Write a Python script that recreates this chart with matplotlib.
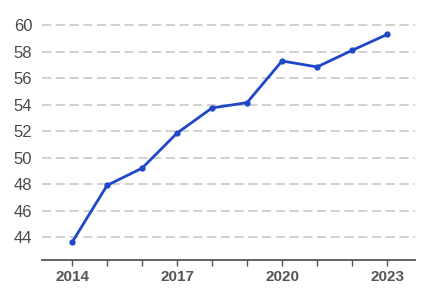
import matplotlib
matplotlib.use("Agg")
import matplotlib.pyplot as plt

years = [2014, 2015, 2016, 2017, 2018, 2019, 2020, 2021, 2022, 2023]
values = [43.6, 47.9, 49.2, 51.85, 53.75, 54.15, 57.3, 56.85, 58.1, 59.3]
y_ticks = [44, 46, 48, 50, 52, 54, 56, 58, 60]
x_labels = [2014, 2017, 2020, 2023]

plt.rcParams["font.family"] = ["Liberation Sans", "DejaVu Sans"]

fig = plt.figure(figsize=(4.31, 2.91), dpi=100)
ax = fig.add_axes([42 / 431, 31 / 291, 373 / 431, 248 / 291])

ax.plot(years, values, color="#1f47c8", linewidth=2, marker="o",
        markersize=3.5, zorder=3)

ax.set_xlim(2013.14, 2023.8)
ax.set_ylim(42.26, 61.0)

ax.set_yticks(y_ticks)
ax.set_xticks(years)
ax.set_xticklabels([str(y) if y in x_labels else "" for y in years])

ax.grid(axis="y", color="#c4c4c4", linestyle=(0, (6, 3)), linewidth=1.1)
ax.set_axisbelow(True)

for side in ["left", "right", "top"]:
    ax.spines[side].set_visible(False)
ax.spines["bottom"].set_color("#555555")
ax.spines["bottom"].set_linewidth(1.3)

ax.tick_params(axis="y", length=0, labelsize=12, labelcolor="#4a4a4a", pad=7)
ax.tick_params(axis="x", length=4.5, width=1, color="#555555", labelsize=11,
               labelcolor="#555555", pad=3)
for lbl in ax.get_xticklabels():
    lbl.set_fontweight("bold")

fig.savefig("out.png", dpi=100, facecolor="white")
